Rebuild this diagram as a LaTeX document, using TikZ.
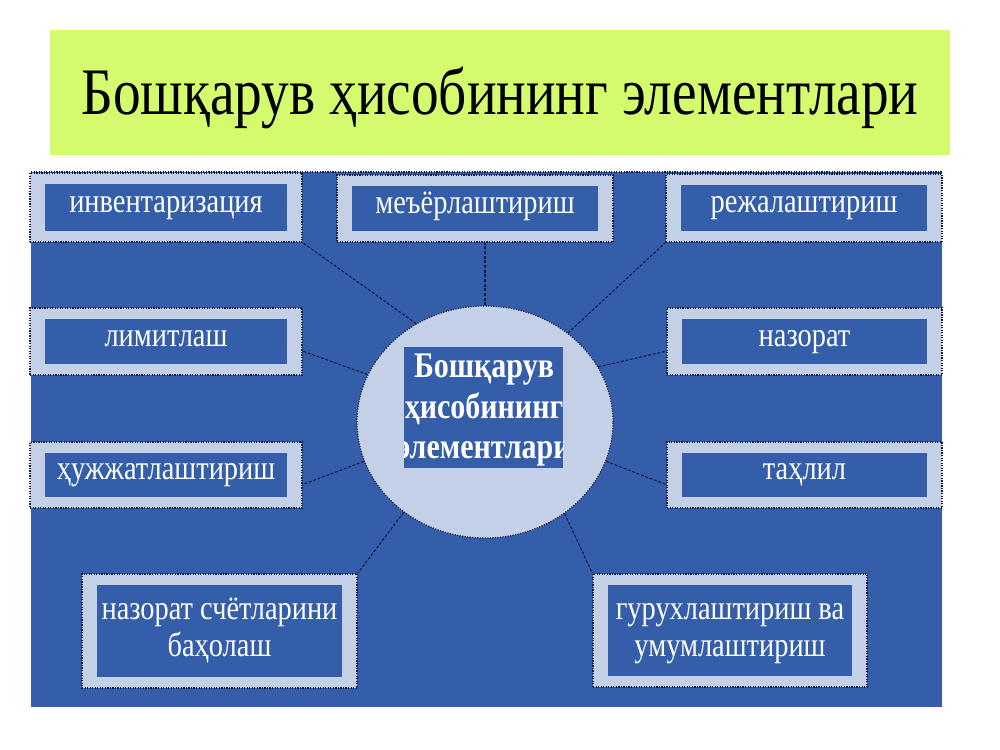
\documentclass[tikz,border=0pt]{standalone}
\usepackage{fontspec}
\setmainfont{Liberation Serif}
\usetikzlibrary{shapes.geometric}
\definecolor{bannergreen}{RGB}{212,251,110}
\definecolor{panelblue}{RGB}{52,94,170}
\definecolor{hatch}{RGB}{196,208,230}
\definecolor{navy}{RGB}{18,28,62}
\newcommand\ystr[1]{\scalebox{1}[1.2]{#1}}
\tikzset{
  obox/.style={rectangle, draw=navy, densely dotted, line width=0.9pt, fill=hatch, inner sep=0pt},
  ibox/.style={rectangle, fill=panelblue, text=white, inner sep=0pt, font=\fontsize{21.3}{23}\selectfont, text height=7pt, text depth=0pt},
  twoline/.style={text height={}, text depth={}},
  conn/.style={draw=navy, line width=0.8pt, dash pattern=on 2.2pt off 1.3pt},
}
\newcommand\ebox[7][]{%
  \node[obox, minimum width=#5*0.75pt, minimum height=#6*0.75pt] (#2) at (#3,#4) {};
  \node[ibox, #1, minimum width=(#5-30)*0.75pt, minimum height=(#6-22)*0.75pt] (#2-in) at (#3,#4) {\ystr{#7}};}
\begin{document}
\begin{tikzpicture}[x=0.75pt,y=-0.75pt]
\useasboundingbox (0,0) rectangle (1000,750);
\fill[white] (0,0) rectangle (1000,750);
% banner
\node[rectangle, fill=bannergreen, inner sep=0pt, minimum width=900*0.75pt, minimum height=125*0.75pt] (banner) at (500,92.5) {};
\node[font=\fontsize{41.5}{45}\selectfont, text=black] (title) at (500,98) {\ystr{Бошқарув ҳисобининг элементлари}};
% panel
\fill[panelblue] (31,172) rectangle (942,707);
\draw[navy, densely dotted, line width=0.9pt] (31,172) -- (942,172);
% center ellipse
\node[ellipse, draw=navy, densely dotted, line width=0.9pt, fill=hatch, minimum width=256*0.75pt, minimum height=232*0.75pt, inner sep=0pt] (c) at (485,422) {};
\node[rectangle, fill=panelblue, inner sep=0pt, minimum width=159*0.75pt, minimum height=121*0.75pt] (cin) at (483.5,407.5) {};
\begin{scope}
\clip (404,347) rectangle (563,468);
\node[text=white, font=\bfseries\fontsize{22.5}{25.5}\selectfont, inner sep=0pt] (ctext) at (484,410) {\ystr{\begin{tabular}{@{}c@{}}Бошқарув\\ҳисобининг\\элементлари\end{tabular}}};
\end{scope}
% boxes
\ebox{inv}{166}{207.5}{272}{69}{инвентаризация}
\ebox{mer}{475}{208.5}{276}{67}{меъёрлаштириш}
\ebox{rej}{804}{208}{276}{68}{режалаштириш}
\ebox{lim}{166}{341.5}{272}{67}{лимитлаш}
\ebox{hujj}{166}{475}{272}{66}{ҳужжатлаштириш}
\ebox{naz}{804.5}{341.5}{275}{67}{назорат}
\ebox{tahl}{804.5}{475}{275}{66}{таҳлил}
\ebox[twoline]{nsb}{219.5}{631}{275}{114}{\raisebox{-2pt}{\begin{tabular}{@{}c@{}}назорат счётларини\\баҳолаш\end{tabular}}}
\ebox[twoline]{gur}{730}{630.5}{274}{113}{\raisebox{-2pt}{\begin{tabular}{@{}c@{}}гурухлаштириш ва\\умумлаштириш\end{tabular}}}
% connectors
\draw[conn] (c.north) -- (c.north |- mer.south);
\draw[conn] (c.125) -- (inv.south east);
\draw[conn] (c.47) -- (rej.south west);
\draw[conn] (c.158) -- (lim.-4);
\draw[conn] (c.198) -- (hujj.-4);
\draw[conn] (c.26) -- (naz.184);
\draw[conn] (c.-18) -- (tahl.184);
\draw[conn] (c.228) -- (nsb.north east);
\draw[conn] (c.-49) -- (gur.north west);
\end{tikzpicture}
\end{document}
